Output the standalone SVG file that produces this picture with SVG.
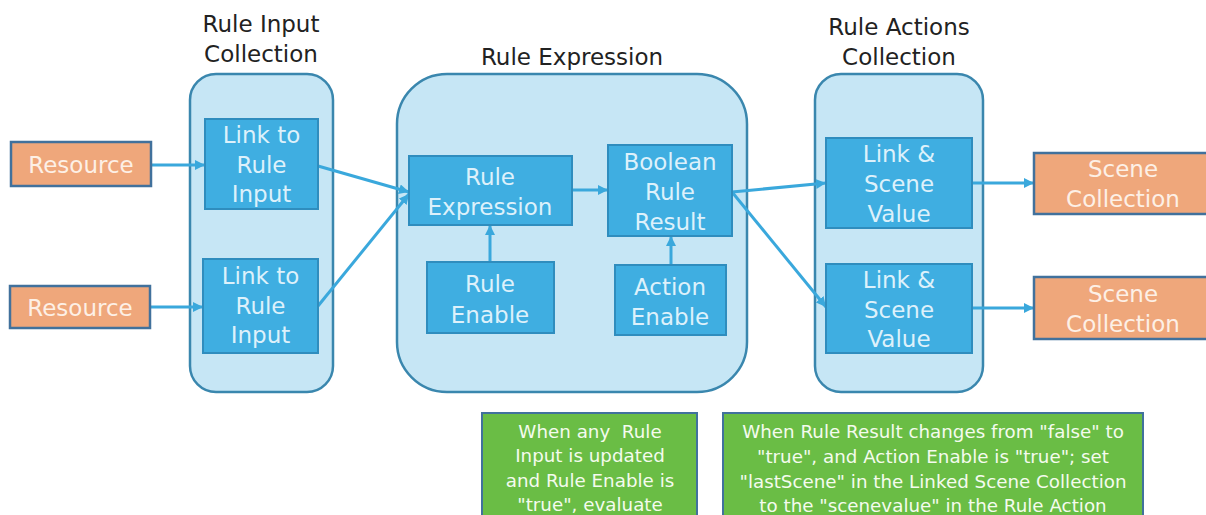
<svg xmlns="http://www.w3.org/2000/svg" width="1206" height="515" viewBox="0 0 1206 515">
<defs>
<marker id="ah" viewBox="0 0 10 10" refX="10" refY="5" markerWidth="10" markerHeight="10" markerUnits="userSpaceOnUse" orient="auto">
<path d="M0,0 L10,5 L0,10 z" fill="#3AA8DC"/>
</marker>
<style>
text{font-family:"DejaVu Sans","Liberation Sans",sans-serif;text-anchor:middle}
.title{font-size:23px;fill:#222}
.cont{fill:#C6E6F5;stroke:#3A87AE;stroke-width:2.5}
.bn{fill:#3FAEE1;stroke:#2F8DBE;stroke-width:2}
.bt{font-size:23px;fill:#DDF1FB}
.on{fill:#EFA77B;stroke:#41719C;stroke-width:2.5}
.ot{font-size:23px;fill:#FDF0E6}
.gn{fill:#6ABD45;stroke:#41719C;stroke-width:2}
.gt{font-size:18.3px;fill:#F4FBEE;white-space:pre}
.edge{stroke:#3AA8DC;stroke-width:3;fill:none;marker-end:url(#ah)}
</style>
</defs>
<rect width="1206" height="515" fill="#FFFFFF"/>

<g id="titles">
<text class="title" x="261" y="32">Rule Input</text>
<text class="title" x="261" y="62">Collection</text>
<text class="title" x="572" y="65">Rule Expression</text>
<text class="title" x="899" y="35">Rule Actions</text>
<text class="title" x="899" y="65">Collection</text>
</g>

<g id="containers">
<rect id="rule-input-collection" class="cont" x="190" y="74" width="143" height="318" rx="26"/>
<rect id="rule-expression-group" class="cont" x="397" y="74" width="350" height="318" rx="50"/>
<rect id="rule-actions-collection" class="cont" x="815" y="74" width="168" height="318" rx="26"/>
</g>

<g id="connectors">
<line class="edge" x1="151" y1="165" x2="205" y2="165"/>
<line class="edge" x1="150" y1="307" x2="203" y2="307"/>
<line class="edge" x1="318" y1="166" x2="409" y2="192"/>
<line class="edge" x1="318" y1="306" x2="409" y2="194"/>
<line class="edge" x1="572" y1="190" x2="608" y2="190"/>
<line class="edge" x1="490" y1="262" x2="490" y2="225"/>
<line class="edge" x1="671" y1="265" x2="671" y2="236"/>
<line class="edge" x1="732" y1="192" x2="826" y2="183"/>
<line class="edge" x1="732" y1="192" x2="826" y2="307"/>
<line class="edge" x1="972" y1="183" x2="1034" y2="183"/>
<line class="edge" x1="972" y1="308" x2="1034" y2="308"/>
</g>

<g id="resource-1">
<rect class="on" x="11" y="142" width="140" height="44"/>
<text class="ot" x="81" y="173">Resource</text>
</g>
<g id="resource-2">
<rect class="on" x="10" y="286" width="140" height="42"/>
<text class="ot" x="80" y="316">Resource</text>
</g>

<g id="link-rule-input-1">
<rect class="bn" x="205" y="119" width="113" height="90"/>
<text class="bt" x="261.5" y="143">Link to</text>
<text class="bt" x="261.5" y="173">Rule</text>
<text class="bt" x="261.5" y="202">Input</text>
</g>
<g id="link-rule-input-2">
<rect class="bn" x="203" y="259" width="115" height="94"/>
<text class="bt" x="260.5" y="284">Link to</text>
<text class="bt" x="260.5" y="314">Rule</text>
<text class="bt" x="260.5" y="343">Input</text>
</g>

<g id="rule-expression">
<rect class="bn" x="409" y="156" width="163" height="69"/>
<text class="bt" x="490" y="185">Rule</text>
<text class="bt" x="490" y="215">Expression</text>
</g>
<g id="boolean-rule-result">
<rect class="bn" x="608" y="145" width="124" height="91"/>
<text class="bt" x="670" y="170">Boolean</text>
<text class="bt" x="670" y="200">Rule</text>
<text class="bt" x="670" y="230">Result</text>
</g>
<g id="rule-enable">
<rect class="bn" x="427" y="262" width="127" height="71"/>
<text class="bt" x="490" y="292">Rule</text>
<text class="bt" x="490" y="323">Enable</text>
</g>
<g id="action-enable">
<rect class="bn" x="615" y="265" width="111" height="70"/>
<text class="bt" x="670" y="295">Action</text>
<text class="bt" x="670" y="325">Enable</text>
</g>

<g id="link-scene-value-1">
<rect class="bn" x="826" y="138" width="146" height="90"/>
<text class="bt" x="899" y="162">Link &amp;</text>
<text class="bt" x="899" y="192">Scene</text>
<text class="bt" x="899" y="222">Value</text>
</g>
<g id="link-scene-value-2">
<rect class="bn" x="826" y="264" width="146" height="89"/>
<text class="bt" x="899" y="288">Link &amp;</text>
<text class="bt" x="899" y="318">Scene</text>
<text class="bt" x="899" y="347">Value</text>
</g>

<g id="scene-collection-1">
<rect class="on" x="1034" y="153" width="180" height="61"/>
<text class="ot" x="1123" y="177">Scene</text>
<text class="ot" x="1123" y="207">Collection</text>
</g>
<g id="scene-collection-2">
<rect class="on" x="1034" y="277" width="180" height="62"/>
<text class="ot" x="1123" y="302">Scene</text>
<text class="ot" x="1123" y="332">Collection</text>
</g>

<g id="note-evaluate">
<rect class="gn" x="482" y="413" width="215" height="120"/>
<text class="gt" x="590" y="438">When any  Rule</text>
<text class="gt" x="590" y="462">Input is updated</text>
<text class="gt" x="590" y="487">and Rule Enable is</text>
<text class="gt" x="590" y="511">"true", evaluate</text>
</g>
<g id="note-action">
<rect class="gn" x="723" y="413" width="420" height="120"/>
<text class="gt" x="933" y="438">When Rule Result changes from "false" to</text>
<text class="gt" x="933" y="463">"true", and Action Enable is "true"; set</text>
<text class="gt" x="933" y="488">"lastScene" in the Linked Scene Collection</text>
<text class="gt" x="933" y="512">to the "scenevalue" in the Rule Action</text>
</g>
</svg>
